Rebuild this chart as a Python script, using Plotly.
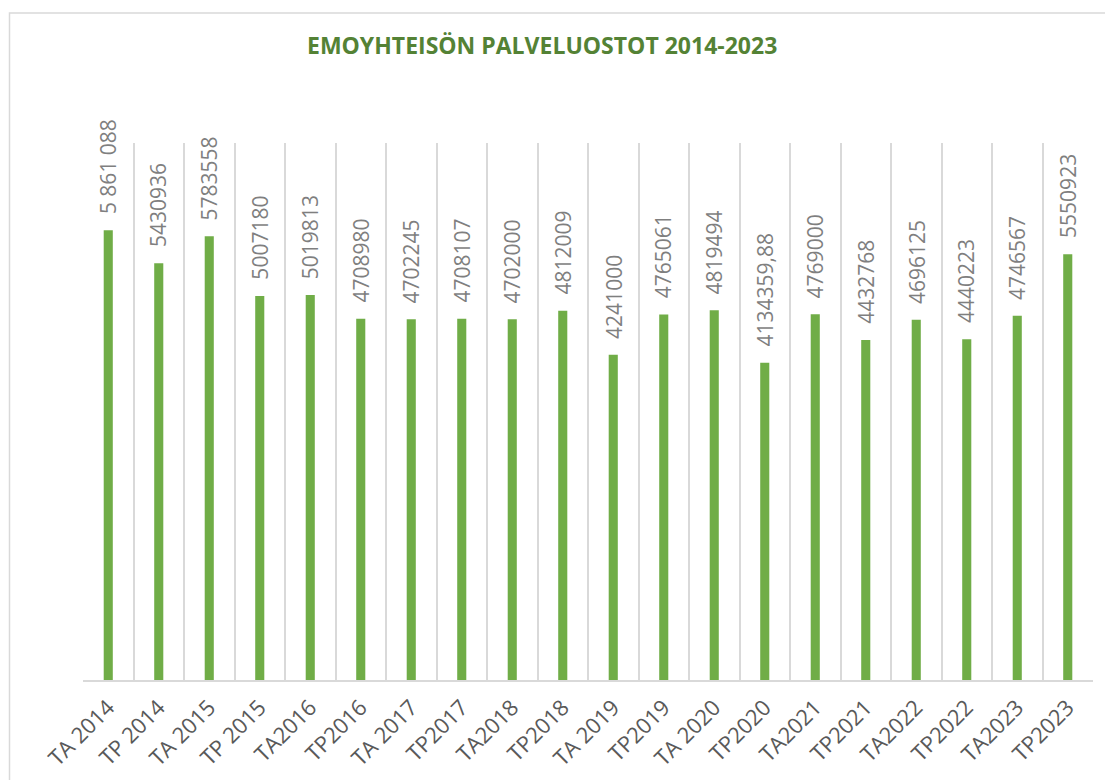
import plotly.graph_objects as go

categories = ["TA 2014", "TP 2014", "TA 2015", "TP 2015", "TA2016", "TP2016", "TA 2017",
              "TP2017", "TA2018", "TP2018", "TA 2019", "TP2019", "TA 2020", "TP2020",
              "TA2021", "TP2021", "TA2022", "TP2022", "TA2023", "TP2023"]
values = [5861088, 5430936, 5783558, 5007180, 5019813, 4708980, 4702245,
          4708107, 4702000, 4812009, 4241000, 4765061, 4819494, 4134359.88,
          4769000, 4432768, 4696125, 4440223, 4746567, 5550923]
value_labels = ["5 861 088", "5430936", "5783558", "5007180", "5019813", "4708980", "4702245",
                "4708107", "4702000", "4812009", "4241000", "4765061", "4819494", "4134359,88",
                "4769000", "4432768", "4696125", "4440223", "4746567", "5550923"]
title_text = "EMOYHTEISÖN PALVELUOSTOT 2014-2023"

FONT = "Open Sans"
GRID = "#D9D9D9"

# page body adds an 8px offset; plot area in screen px: x 83..1093, y 142.5..680
PL, PR, PT, PB = 83, 1093, 142.5, 680
PW, PH = PR - PL, PB - PT


def px_x(sx):
    return (sx - PL) / PW


def px_y(sy):
    return (PB - sy) / PH


fig = go.Figure()
fig.add_trace(go.Bar(
    x=categories, y=values,
    marker=dict(color="#70AD47", line=dict(width=0)),
    width=0.18,
    hoverinfo="x+y",
))

for c, v, t in zip(categories, values, value_labels):
    fig.add_annotation(
        x=c, y=v, text=t, showarrow=False, textangle=-90,
        xanchor="center", yanchor="bottom", yshift=14,
        font=dict(family=FONT, size=21, color="#7F7F7F"),
    )

fig.add_annotation(
    xref="paper", yref="paper", x=px_x(542), y=px_y(44),
    text="<b>" + title_text + "</b>", showarrow=False,
    xanchor="center", yanchor="middle",
    font=dict(family=FONT, size=23, color="#548235"),
)

# outer chart border
fig.add_shape(type="rect", xref="paper", yref="paper",
              x0=px_x(9.5), x1=px_x(1140),
              y0=px_y(820), y1=px_y(12.5),
              line=dict(color=GRID, width=1.5), fillcolor="rgba(0,0,0,0)", layer="below")

W, H = 1105, 772
fig.update_layout(
    width=W, height=H,
    margin=dict(l=PL - 8, r=W - (PR - 8), t=PT - 8, b=H - (PB - 8), pad=0),
    paper_bgcolor="white", plot_bgcolor="white",
    showlegend=False,
    xaxis=dict(
        type="category", tickson="boundaries", showgrid=True, gridcolor=GRID, gridwidth=1.5,
        showline=True, linecolor=GRID, linewidth=2, ticks="", tickangle=-45,
        ticklabelstandoff=4, automargin=False,
        tickfont=dict(family=FONT, size=22, color="#595959"),
        range=[-0.5, len(categories) - 0.5],
    ),
    yaxis=dict(range=[0, 7000000], showgrid=False, showticklabels=False, zeroline=False,
               showline=False, ticks="", automargin=False),
)

fig.write_html("out.html")
